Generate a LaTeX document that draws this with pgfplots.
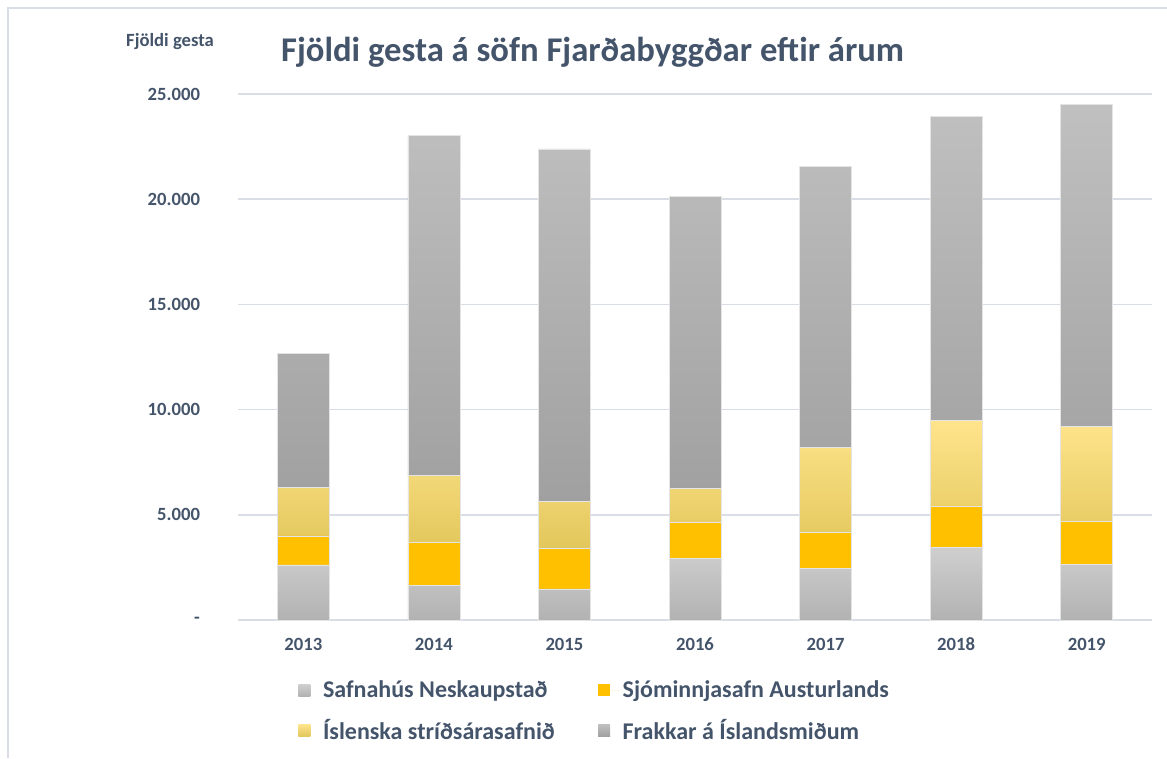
\documentclass[border=0pt]{standalone}
\usepackage{fontspec}
\setmainfont{Carlito}
\usepackage{pgfplots}
\usepackage{pgfplotstable}
\pgfplotsset{compat=1.18}
\definecolor{txtc}{RGB}{68,84,106}
\definecolor{gridc}{RGB}{217,222,230}
\definecolor{framec}{RGB}{217,222,230}
\definecolor{sjo}{RGB}{255,192,0}
\definecolor{safnT}{RGB}{207,207,207}
\definecolor{safnM}{RGB}{200,200,200}
\definecolor{safnB}{RGB}{178,178,178}
\definecolor{stridT}{RGB}{255,228,140}
\definecolor{stridM}{RGB}{254,225,130}
\definecolor{stridB}{RGB}{226,199,92}
\definecolor{frakT}{RGB}{192,192,192}
\definecolor{frakM}{RGB}{180,180,180}
\definecolor{frakB}{RGB}{160,160,160}
\pgfplotstableread{
x safn sjo strid frakkar
0 2620 1380 2320 6350
1 1630 2050 3180 16190
2 1480 1930 2210 16770
3 2910 1740 1610 13880
4 2470 1710 4010 13350
5 3450 1970 4060 14440
6 2660 2020 4540 15290
}\data
\begin{document}
\begin{tikzpicture}
\path[use as bounding box] (-178.5pt,-103.5pt) rectangle (696.75pt,465pt);
\draw[framec, line width=1.1pt] (-172.5pt,-103.5pt) -- (-172.5pt,459pt) -- (696.75pt,459pt);
\begin{axis}[
  at={(0pt,0pt)}, anchor=south west,
  scale only axis, width=685.5pt, height=394.5pt,
  xmin=-0.5, xmax=6.5, ymin=0, ymax=25000,
  ybar stacked, bar width=39pt,
  axis line style={draw=none},
  major tick length=0pt,
  tick style={draw=none},
  xmajorgrids=false,
  ymajorgrids, grid style={draw=gridc, line width=1.1pt},
  scaled y ticks=false,
  xtick={0,1,2,3,4,5,6},
  xticklabels={2013,2014,2015,2016,2017,2018,2019},
  ytick={0,5000,10000,15000,20000,25000},
  yticklabels={-,5.000,10.000,15.000,20.000,25.000},
  tick label style={font=\fontsize{14}{16}\selectfont\bfseries, text=txtc},
  yticklabel style={xshift=-25pt},
  xticklabel style={yshift=-9pt, text height=10pt, text depth=2pt},
  clip=false,
  legend columns=2,
  legend cell align=left,
  legend style={draw=none, fill=none, at={(0.3906,-0.173)}, anchor=center,
    font=\fontsize{18}{21}\selectfont\bfseries, text=txtc,
    /tikz/every even column/.append style={column sep=30.5pt},
    row sep=10.7pt},
  legend image code/.code={\path[#1, draw=none] (0pt,-4.5pt) rectangle (9pt,4.5pt);
    \path[draw=none] (0pt,0pt) -- (16.5pt,0pt);},
  every axis plot/.append style={draw={rgb,255:red,228;green,228;blue,228}, line width=0.5pt},
]
\addplot[top color=safnT, middle color=safnM, bottom color=safnB] table[x=x,y=safn]{\data};
\addplot[fill=sjo] table[x=x,y=sjo]{\data};
\addplot[top color=stridT, middle color=stridM, bottom color=stridB] table[x=x,y=strid]{\data};
\addplot[top color=frakT, middle color=frakM, bottom color=frakB] table[x=x,y=frakkar]{\data};
\legend{Safnahús Neskaupstað, Sjóminnjasafn Austurlands, Íslenska stríðsárasafnið, Frakkar á Íslandsmiðum}
\node[font=\fontsize{14}{16}\selectfont\bfseries, text=txtc] at (rel axis cs:-0.0744,1.099) {Fjöldi gesta};
\node[font=\fontsize{26}{30}\selectfont\bfseries, text=txtc, anchor=base] at (rel axis cs:0.388,1.061) {Fjöldi gesta á söfn Fjarðabyggðar eftir árum};
\end{axis}
\end{tikzpicture}
\end{document}
